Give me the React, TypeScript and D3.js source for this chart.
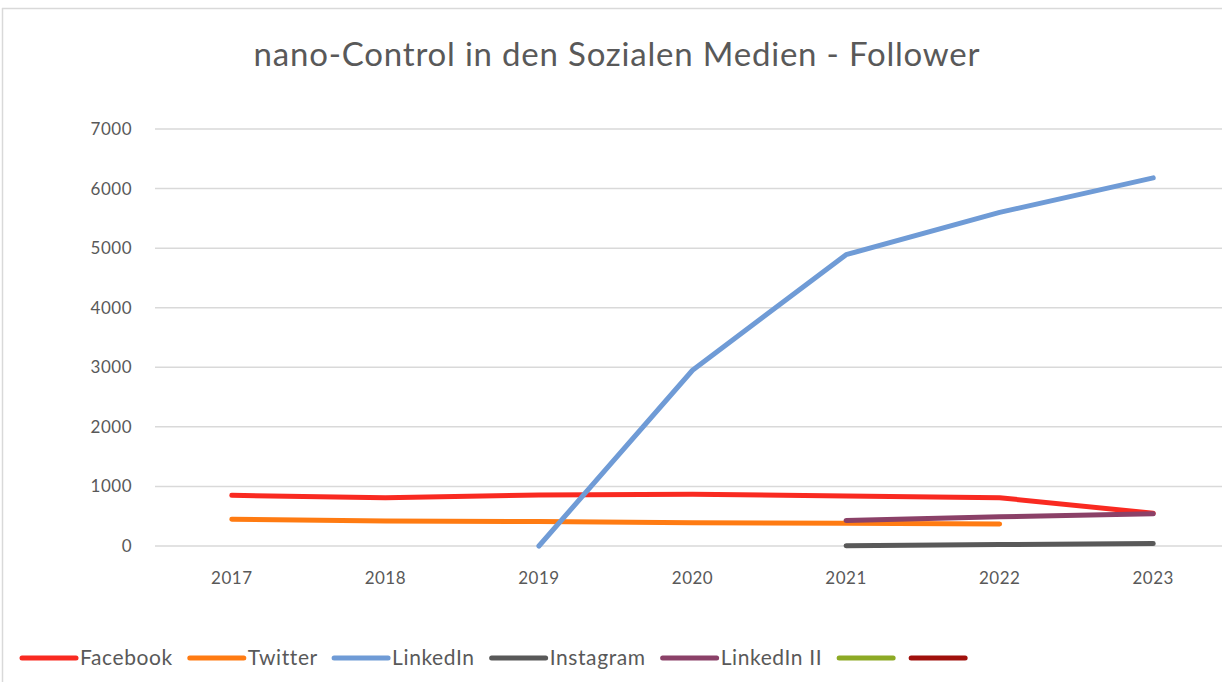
import React from "react";
import * as d3 from "d3";

const years = ["2017", "2018", "2019", "2020", "2021", "2022", "2023"];
const yTicks = [0, 1000, 2000, 3000, 4000, 5000, 6000, 7000];
const facebook = [850, 810, 855, 870, 840, 810, 550];
const twitter = [450, 420, 410, 390, 380, 370, null];
const linkedin = [null, null, 0, 2950, 4890, 5600, 6180];
const instagram = [null, null, null, null, 5, 25, 40];
const linkedin2 = [null, null, null, null, 430, 490, 540];
const empty1: (number | null)[] = [null, null, null, null, null, null, null];
const empty2: (number | null)[] = [null, null, null, null, null, null, null];

const seriesNames = ["Facebook", "Twitter", "LinkedIn", "Instagram", "LinkedIn II", "", ""];
const seriesValues = [facebook, twitter, linkedin, instagram, linkedin2, empty1, empty2];
const seriesColors = ["#F92A21", "#FF7B12", "#6F9BD6", "#595959", "#8B4168", "#8DAA25", "#A0100C"];

const W = 1222;
const H = 682;
const FONT = "Lato, 'Open Sans', sans-serif";

function measure(text: string, font: string): number {
  const c = document.createElement("canvas");
  const ctx = c.getContext("2d");
  if (!ctx) return text.length * 10;
  ctx.font = font;
  return ctx.measureText(text).width;
}

export default function App() {
  const x = d3.scalePoint<string>().domain(years).range([155, 1230]).padding(0.5);
  const y = d3.scaleLinear().domain([0, 7000]).range([546, 129]);

  const line = d3
    .line<number | null>()
    .defined((d) => d !== null)
    .x((_, i) => x(years[i]) as number)
    .y((d) => y(d as number));

  // legend layout
  const legendY = 658;
  const legendFontSize = 21;
  const legendSpacing = 0.6;
  let lx = 22;
  const legendItems = seriesNames.map((name, i) => {
    const item = { x: lx, name, color: seriesColors[i] };
    const tw = name ? measure(name, `${legendFontSize}px Lato`) + name.length * legendSpacing : 0;
    lx += 55 + (name ? 3 + tw : 0) + 17;
    return item;
  });

  return (
    <div style={{ position: "absolute", left: 0, top: 0, width: W, height: H, background: "#fff" }}>
      <svg width={W} height={H} style={{ display: "block", fontFamily: FONT }}>
        <rect x={0} y={0} width={W} height={H} fill="#fff" />
        <line x1={2.5} y1={8} x2={2.5} y2={H} stroke="#D9D9D9" strokeWidth={1.5} />
        <line x1={2} y1={8.5} x2={W} y2={8.5} stroke="#D9D9D9" strokeWidth={1.5} />

        <text x={617} y={66} textAnchor="middle" fontSize={33} letterSpacing={0.8} fill="#595959" fontFamily={FONT}>
          nano-Control in den Sozialen Medien - Follower
        </text>

        {yTicks.map((t) => (
          <g key={t}>
            <line x1={155} x2={W} y1={y(t)} y2={y(t)} stroke="#D9D9D9" strokeWidth={1.5} />
            <text x={132} y={y(t)} dy="0.35em" textAnchor="end" fontSize={17} letterSpacing={0.5} fill="#595959">
              {t}
            </text>
          </g>
        ))}

        {years.map((yr) => (
          <text key={yr} x={x(yr)} y={584} textAnchor="middle" fontSize={17} letterSpacing={0.5} fill="#595959">
            {yr}
          </text>
        ))}

        {seriesValues.map((vals, i) => (
          <path
            key={i}
            d={line(vals) || ""}
            fill="none"
            stroke={seriesColors[i]}
            strokeWidth={5}
            strokeLinecap="round"
            strokeLinejoin="round"
          />
        ))}

        {legendItems.map((it, i) => (
          <g key={i}>
            <line x1={it.x} x2={it.x + 54} y1={legendY} y2={legendY} stroke={it.color} strokeWidth={5} strokeLinecap="round" />
            {it.name && (
              <text x={it.x + 58} y={legendY} dy="0.35em" fontSize={legendFontSize} letterSpacing={legendSpacing} fill="#595959">
                {it.name}
              </text>
            )}
          </g>
        ))}
      </svg>
    </div>
  );
}
